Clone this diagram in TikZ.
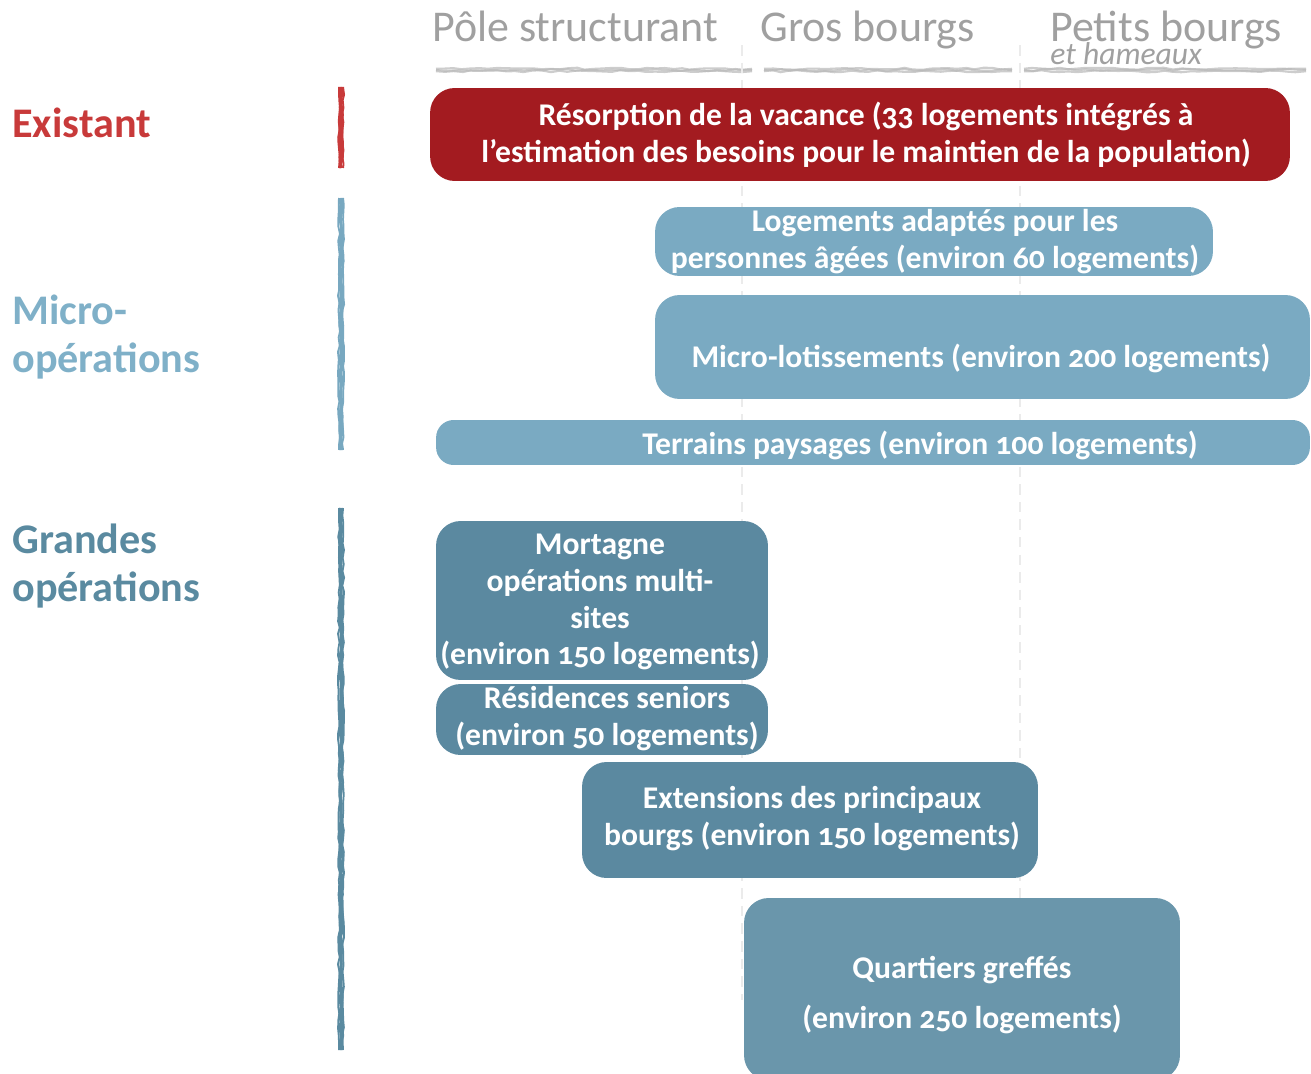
\documentclass[tikz,border=0pt]{standalone}
\usepackage{fontspec}
\setmainfont{Carlito}[Numbers=OldStyle]
\usetikzlibrary{decorations.pathmorphing}

\definecolor{redlabel}{HTML}{C83A3A}
\definecolor{redbox}{HTML}{A31B20}
\definecolor{lightlabel}{HTML}{7FB0C8}
\definecolor{darklabel}{HTML}{5A8AA0}
\definecolor{lightbox}{HTML}{7AAAC2}
\definecolor{darkbox}{HTML}{5B89A0}
\definecolor{midbox}{HTML}{6A96AB}
\definecolor{headgray}{HTML}{A0A0A0}
\definecolor{rulegray}{HTML}{B8B8B8}

\tikzset{
  box/.style={draw=none, fill=#1, rounded corners=14pt, inner sep=0pt},
  boxtext/.style={text=white, align=center, inner sep=0pt,
    font=\fontsize{18}{21}\selectfont\bfseries},
  headtext/.style={text=headgray, inner sep=0pt, font=\fontsize{25}{28}\selectfont},
  rowlabel/.style={inner sep=0pt, align=left, font=\fontsize{24}{27}\selectfont\bfseries},
  crayon/.style={draw=#1, decorate, decoration={random steps, segment length=4pt, amplitude=0.6pt}},
  smear/.style={draw=rulegray, line width=1.2pt, opacity=0.7, decorate,
    decoration={random steps, segment length=5pt, amplitude=0.6pt}},
  divider/.style={draw=black!8, line width=0.6pt, dash pattern=on 6pt off 4pt}
}

\begin{document}
\begin{tikzpicture}[x=0.02cm, y=-0.02cm]
\pgfmathsetseed{42}
\useasboundingbox (0,0) rectangle (1311,1074);

% column headers
\node[headtext, anchor=base west] (pole) at (432,42) {Pôle structurant};
\node[headtext, anchor=base west] (gros) at (760,42) {Gros bourgs};
\node[headtext, anchor=base west] (petits) at (1050,42) {Petits bourgs};
\node[headtext, anchor=base west, font=\fontsize{18}{20}\selectfont\itshape] (hameaux) at (1050,65) {et hameaux};

% smeared rules under the headers
\coordinate (r1a) at (436,70); \coordinate (r1b) at (752,70);
\coordinate (r2a) at (764,70); \coordinate (r2b) at (1012,70);
\coordinate (r3a) at (1024,70); \coordinate (r3b) at (1306,70);
\foreach \s in {-1,0,1}{
  \draw[smear] ([yshift=\s*0.7pt]r1a) -- ([yshift=\s*0.7pt]r1b);
  \draw[smear] ([yshift=\s*0.7pt]r2a) -- ([yshift=\s*0.7pt]r2b);
  \draw[smear] ([yshift=\s*0.7pt]r3a) -- ([yshift=\s*0.7pt]r3b);
}

% faint column dividers
\coordinate (d1a) at (742,45); \coordinate (d1b) at (742,1000);
\coordinate (d2a) at (1020,45); \coordinate (d2b) at (1020,1000);
\draw[divider] (d1a) -- (d1b);
\draw[divider] (d2a) -- (d2b);

% row labels
\node[rowlabel, text=redlabel, anchor=base west] (existant) at (12,138) {Existant};
\node[rowlabel, text=lightlabel, anchor=west] (micro) at (12,337) {Micro-\\opérations};
\node[rowlabel, text=darklabel, anchor=west] (grandes) at (12,566) {Grandes\\opérations};

% crayon strokes beside the row labels
\coordinate (sr1) at (341,87);  \coordinate (sr2) at (341,168);
\coordinate (sm1) at (341,198); \coordinate (sm2) at (341,450);
\coordinate (sg1) at (341,508); \coordinate (sg2) at (341,1050);
\foreach \dx/\w in {-1.2/1,-0.4/1.6,0.4/1.6,1.2/1}{
  \draw[crayon=redlabel, line width=\w pt] ([xshift=\dx pt]sr1) -- ([xshift=\dx pt]sr2);
  \draw[crayon=lightlabel!80!darklabel, line width=\w pt] ([xshift=\dx pt]sm1) -- ([xshift=\dx pt]sm2);
  \draw[crayon=darklabel, line width=\w pt] ([xshift=\dx pt]sg1) -- ([xshift=\dx pt]sg2);
}

% existing stock
\node[box=redbox, minimum width=17.2cm, minimum height=1.86cm] (vacance) at (860,134.5) {};
\node[boxtext] (vacance-t) at (866,135) {Résorption de la vacance (33 logements intégrés à\\l’estimation des besoins pour le maintien de la population)};

% micro-operations
\node[box=lightbox, minimum width=11.16cm, minimum height=1.38cm] (agees) at (934,241.5) {};
\node[boxtext] (agees-t) at (935,242) {Logements adaptés pour les\\personnes âgées (environ 60 logements)};

\node[box=lightbox, minimum width=13.1cm, minimum height=2.08cm] (lotis) at (982.5,347) {};
\node[boxtext] (lotis-t) at (981,358) {Micro-lotissements (environ 200 logements)};

\node[box=lightbox, minimum width=17.48cm, minimum height=0.9cm, rounded corners=10pt] (terrains) at (873,442.5) {};
\node[boxtext] (terrains-t) at (920,445) {Terrains paysages (environ 100 logements)};

% large operations
\node[box=darkbox, minimum width=6.64cm, minimum height=3.18cm] (mortagne) at (602,600.5) {};
\node[boxtext] (mortagne-t) at (600,602) {Mortagne\\opérations multi-\\sites\\(environ 150 logements)};

\node[box=darkbox, minimum width=6.64cm, minimum height=1.42cm] (seniors) at (602,719.5) {};
\node[boxtext] (seniors-t) at (607,719) {Résidences seniors\\(environ 50 logements)};

\node[box=darkbox, minimum width=9.12cm, minimum height=2.32cm] (extensions) at (810,820) {};
\node[boxtext] (extensions-t) at (812,819) {Extensions des principaux\\bourgs (environ 150 logements)};

\node[box=midbox, minimum width=8.72cm, minimum height=3.64cm] (quartiers) at (962,989) {};
\node[boxtext] (quartiers-t) at (962,995) {Quartiers greffés\\[7pt](environ 250 logements)};

\end{tikzpicture}
\end{document}
